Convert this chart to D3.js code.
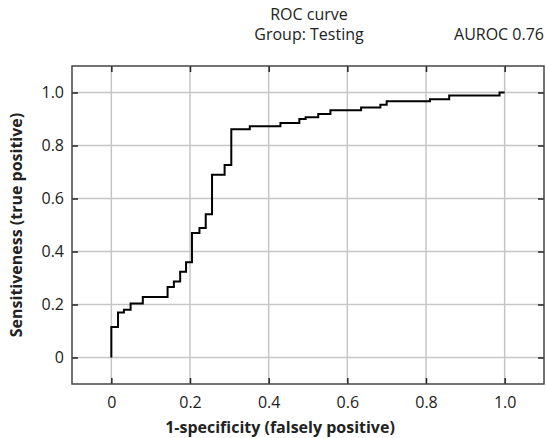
<!DOCTYPE html>
<html>
<head>
<meta charset="utf-8">
<script src="https://cdn.jsdelivr.net/npm/d3@7"></script>
<style>
  body { margin: 0; background: #fff; }
  text { font-family: "Open Sans", "Noto Sans", sans-serif; fill: #222; }
</style>
</head>
<body>
<svg width="546" height="438"></svg>
<script>
// ROC points (step-after)
var fpr = [0, 0, 0.017, 0.032, 0.049, 0.080, 0.143, 0.159, 0.175, 0.190, 0.205, 0.224, 0.240, 0.256,
           0.288, 0.305, 0.352, 0.430, 0.478, 0.494, 0.526, 0.557, 0.635, 0.684, 0.700, 0.810, 0.859, 0.987, 1.0];
var tpr = [0, 0.115, 0.170, 0.180, 0.204, 0.228, 0.266, 0.287, 0.324, 0.359, 0.470, 0.489, 0.541, 0.690,
           0.726, 0.861, 0.873, 0.885, 0.900, 0.907, 0.919, 0.933, 0.943, 0.954, 0.967, 0.975, 0.989, 1.0, 1.0];
var ticks = [0, 0.2, 0.4, 0.6, 0.8, 1.0];
var tickLabels = ["0", "0.2", "0.4", "0.6", "0.8", "1.0"];
var title = "ROC curve", subtitle = "Group: Testing", auroc = "AUROC 0.76";

var svg = d3.select("svg");
var pL = 72, pT = 66, pR = 544, pB = 384;

var x = d3.scaleLinear().domain([-0.1, 1.1]).range([pL, pR]);
var y = d3.scaleLinear().domain([-0.1, 1.1]).range([pB, pT]);

// grid
svg.append("g").selectAll("line").data(ticks).enter().append("line")
  .attr("x1", function(d) { return x(d); }).attr("x2", function(d) { return x(d); })
  .attr("y1", pT).attr("y2", pB)
  .style("stroke", "#c6c6c6").style("stroke-width", 1.5);
svg.append("g").selectAll("line").data(ticks).enter().append("line")
  .attr("y1", function(d) { return y(d); }).attr("y2", function(d) { return y(d); })
  .attr("x1", pL).attr("x2", pR)
  .style("stroke", "#c6c6c6").style("stroke-width", 1.5);

// axes with inward ticks
var fmt = function(d, i) { return tickLabels[i]; };
var gx = svg.append("g").attr("transform", "translate(0," + pB + ")")
  .call(d3.axisBottom(x).tickValues(ticks).tickSizeInner(-6).tickSizeOuter(0).tickPadding(13).tickFormat(fmt));
var gxt = svg.append("g").attr("transform", "translate(0," + pT + ")")
  .call(d3.axisTop(x).tickValues(ticks).tickSizeInner(-6).tickSizeOuter(0).tickFormat(""));
var gy = svg.append("g").attr("transform", "translate(" + pL + ",0)")
  .call(d3.axisLeft(y).tickValues(ticks).tickSizeInner(-6).tickSizeOuter(0).tickPadding(8).tickFormat(fmt));
var gyr = svg.append("g").attr("transform", "translate(" + pR + ",0)")
  .call(d3.axisRight(y).tickValues(ticks).tickSizeInner(-6).tickSizeOuter(0).tickFormat(""));

[gx, gxt, gy, gyr].forEach(function(g) {
  g.select(".domain").remove();
  g.selectAll(".tick line").style("stroke", "#222").style("stroke-width", 1.5);
  g.selectAll("text").style("font-size", "16px").style("fill", "#222")
    .style("font-family", "'Open Sans', 'Noto Sans', sans-serif");
});

// frame
svg.append("rect").attr("x", pL).attr("y", pT)
  .attr("width", pR - pL).attr("height", pB - pT)
  .style("fill", "none").style("stroke", "#444").style("stroke-width", 1.5);

// curve
var pts = fpr.map(function(f, i) { return [f, tpr[i]]; });
var line = d3.line().x(function(d) { return x(d[0]); }).y(function(d) { return y(d[1]); })
  .curve(d3.curveStepAfter);
svg.append("path").datum(pts).attr("d", line)
  .style("fill", "none").style("stroke", "#000").style("stroke-width", 2);

// titles
svg.append("text").attr("x", 309).attr("y", 20).attr("text-anchor", "middle")
  .style("font-size", "16px").text(title);
svg.append("text").attr("x", 309).attr("y", 40).attr("text-anchor", "middle")
  .style("font-size", "16px").text(subtitle);
svg.append("text").attr("x", 544).attr("y", 40).attr("text-anchor", "end")
  .style("font-size", "16px").text(auroc);

svg.append("text").attr("x", 280).attr("y", 433).attr("text-anchor", "middle")
  .style("font-size", "16px").style("font-weight", "bold").text("1-specificity (falsely positive)");
svg.append("text").attr("transform", "translate(22," + ((pT + pB) / 2) + ") rotate(-90)")
  .attr("text-anchor", "middle")
  .style("font-size", "16px").style("font-weight", "bold").text("Sensitiveness (true positive)");
</script>
</body>
</html>
